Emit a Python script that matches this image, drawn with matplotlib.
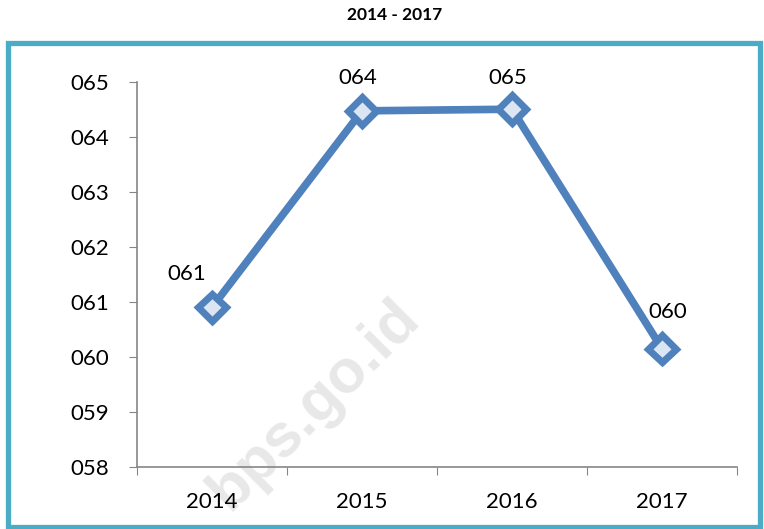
import matplotlib.pyplot as plt
import matplotlib.patheffects as pe
from matplotlib.patches import Rectangle

years = ['2014', '2015', '2016', '2017']
values = [60.90, 64.47, 64.50, 60.15]
y_ticks = [58, 59, 60, 61, 62, 63, 64, 65]

plt.rcParams['font.family'] = ['Lato', 'DejaVu Sans']

fig = plt.figure(figsize=(7.64, 5.29), dpi=100)
ax = fig.add_axes([0.1793, 0.1172, 0.7854, 0.7284])
ax.patch.set_alpha(0)

x = range(len(years))
ax.plot(x, values, color='#4F81BD', lw=5.5, solid_joinstyle='round', zorder=3)
# markers separately, with a small drop shadow like excel
ax.plot(x, values, ls='none', marker='D', ms=14, mew=5,
        mfc='#DCE6F2', mec='#4F81BD', zorder=4,
        path_effects=[pe.SimplePatchShadow(offset=(1.5, -2.5), alpha=0.25), pe.Normal()])

# data labels (excel style, rounded)
offsets = [(-18, 20), (-3, 19.5), (-3, 18.5), (4, 22)]
for i, v in enumerate(values):
    ax.annotate('%03d' % int(v + 0.5), (i, v), xytext=offsets[i], textcoords='offset points',
                ha='center', va='baseline', fontsize=16, color='black')

ax.set_xlim(-0.5, len(years) - 0.5)
ax.set_ylim(58, 65)
ax.set_xticks([i - 0.5 for i in range(len(years) + 1)])
ax.set_xticklabels([])
ax.set_xticks(list(x), minor=True)
ax.set_xticklabels(years, minor=True, fontsize=16)
ax.tick_params(axis='x', which='minor', length=0, pad=18)
ax.tick_params(axis='x', which='major', length=6, color='#868686', direction='out')
ax.set_yticks(y_ticks)
ax.set_yticklabels(['%03d' % t for t in y_ticks], fontsize=16)
ax.tick_params(axis='y', length=6, color='#868686', pad=14)

for s in ['top', 'right']:
    ax.spines[s].set_visible(False)
for s in ['left', 'bottom']:
    ax.spines[s].set_color('#868686')
    ax.spines[s].set_linewidth(1.2)

# watermark
fig.text(0.412, 0.235, 'bps.go.id', rotation=45, fontsize=44, fontweight='bold',
         color='#E8E8E8', family='Liberation Sans', ha='center', va='center', zorder=-1)

fig.text(0.517, 0.972, '2014 - 2017', ha='center', va='center', fontsize=12.5, fontweight='bold')

fig.patches.append(Rectangle((0.0105, 0.004), 0.984, 0.915, transform=fig.transFigure,
                             fill=False, edgecolor='#4BACC6', lw=3.8))

fig.savefig('out.png', dpi=100)
